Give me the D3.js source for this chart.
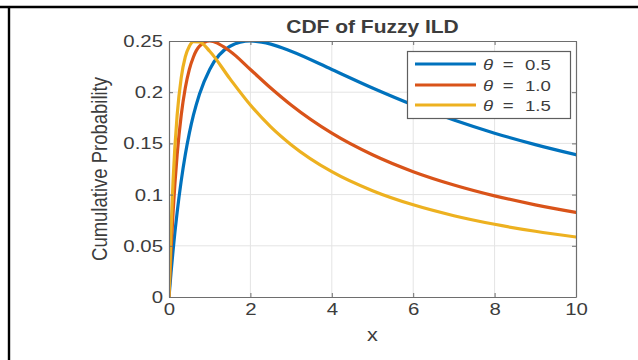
<!DOCTYPE html>
<html>
<head>
<meta charset="utf-8">
<script src="https://cdn.jsdelivr.net/npm/d3@7"></script>
<style>
  html, body { margin: 0; padding: 0; background: #fff; }
  svg { display: block; }
  text { font-family: "Liberation Sans", Arial, Helvetica, sans-serif; fill: #3c3c3c; }
</style>
</head>
<body>
<svg id="chart" width="638" height="360"></svg>
<script>
// Sample points along x and the value of each curve at those points
const xValues = [0, 0.05, 0.1, 0.2, 0.3, 0.4, 0.5, 0.6, 0.75, 1, 1.5, 2, 2.5, 3, 4, 5, 6, 7, 8, 9, 10];
const theta05 = [0, 0.0238, 0.0454, 0.0826, 0.1134, 0.1389, 0.16, 0.1775, 0.1983, 0.2222, 0.2449, 0.25, 0.2469, 0.24, 0.2222, 0.2041, 0.1875, 0.1728, 0.16, 0.1488, 0.1389];
const theta10 = [0, 0.0454, 0.0826, 0.1389, 0.1775, 0.2041, 0.2222, 0.2344, 0.2449, 0.25, 0.24, 0.2222, 0.2041, 0.1875, 0.16, 0.1389, 0.1224, 0.1094, 0.0988, 0.09, 0.0826];
const theta15 = [0, 0.0649, 0.1134, 0.1775, 0.2140, 0.2344, 0.2449, 0.2493, 0.2491, 0.24, 0.2130, 0.1875, 0.1662, 0.1488, 0.1224, 0.1038, 0.09, 0.0794, 0.0710, 0.0642, 0.0586];

const seriesNames = ["0.5", "1.0", "1.5"];
const seriesValues = [theta05, theta10, theta15];
const seriesColors = ["#0072BD", "#D95319", "#EDB120"];

const xTicks = [0, 2, 4, 6, 8, 10];
const yTicks = [0, 0.05, 0.1, 0.15, 0.2, 0.25];
const yTickLabels = ["0", "0.05", "0.1", "0.15", "0.2", "0.25"];

const titleText = "CDF of Fuzzy ILD";
const xLabel = "x";
const yLabel = "Cumulative Probability";

// Layout
const W = 638, H = 360;
const plot = { left: 169, right: 576, top: 41, bottom: 297 };
const stretch = 1.2;   // text is drawn slightly wide

const svg = d3.select("#chart");

// Outer frame: top rule and left rule
svg.append("line").attr("x1", 0).attr("x2", W).attr("y1", 7).attr("y2", 7)
  .attr("stroke", "#000").attr("stroke-width", 2.4);
svg.append("line").attr("x1", 9).attr("x2", 9).attr("y1", 6).attr("y2", H)
  .attr("stroke", "#000").attr("stroke-width", 2.4);

const x = d3.scaleLinear().domain([0, 10]).range([plot.left, plot.right]);
const y = d3.scaleLinear().domain([0, 0.25]).range([plot.bottom, plot.top]);

// Grid
const grid = svg.append("g").attr("stroke", "#e4e4e4").attr("stroke-width", 1);
xTicks.slice(1, -1).forEach(t => {
  grid.append("line").attr("x1", x(t)).attr("x2", x(t))
    .attr("y1", plot.top).attr("y2", plot.bottom);
});
yTicks.slice(1, -1).forEach(t => {
  grid.append("line").attr("x1", plot.left).attr("x2", plot.right)
    .attr("y1", y(t)).attr("y2", y(t));
});

// Curves, clipped to the axes area
svg.append("clipPath").attr("id", "plotClip")
  .append("rect")
  .attr("x", plot.left).attr("y", plot.top)
  .attr("width", plot.right - plot.left).attr("height", plot.bottom - plot.top);

const line = d3.line()
  .x(d => x(d[0]))
  .y(d => y(d[1]))
  .curve(d3.curveMonotoneX);

const curves = svg.append("g").attr("clip-path", "url(#plotClip)");
seriesValues.forEach((vals, i) => {
  curves.append("path")
    .datum(xValues.map((xv, j) => [xv, vals[j]]))
    .attr("d", line)
    .attr("fill", "none")
    .attr("stroke", seriesColors[i])
    .attr("stroke-width", 3.2)
    .attr("stroke-linejoin", "round")
    .attr("stroke-linecap", "round");
});

// Axes with inward ticks
const axisColor = "#6e6e6e";
function styleAxis(g) {
  g.select(".domain").attr("stroke", axisColor).attr("stroke-width", 1.2);
  g.selectAll(".tick line").attr("stroke", axisColor);
  g.selectAll("text").attr("fill", "#383838").attr("font-size", 17)
    .attr("font-family", "'Liberation Sans', Arial, sans-serif");
}

const xAxis = svg.append("g")
  .attr("transform", `translate(0,${plot.bottom})`)
  .call(d3.axisBottom(x).tickValues(xTicks).tickFormat(d3.format("d"))
    .tickSizeInner(-4).tickSizeOuter(0).tickPadding(6));
styleAxis(xAxis);
xAxis.selectAll(".tick text").each(function () {
  const t = d3.select(this);
  t.attr("transform", `scale(${stretch},1)`).attr("x", 0);
});

const yAxis = svg.append("g")
  .attr("transform", `translate(${plot.left},0)`)
  .call(d3.axisLeft(y).tickValues(yTicks).tickFormat((d, i) => yTickLabels[i])
    .tickSizeInner(-4).tickSizeOuter(0).tickPadding(0));
styleAxis(yAxis);
yAxis.selectAll(".tick text").each(function () {
  d3.select(this).attr("x", 0).attr("transform", `translate(-6,0) scale(${stretch},1)`);
});

const topAxis = svg.append("g")
  .attr("transform", `translate(0,${plot.top})`)
  .call(d3.axisTop(x).tickValues(xTicks).tickFormat("").tickSizeInner(-4).tickSizeOuter(0));
styleAxis(topAxis);

const rightAxis = svg.append("g")
  .attr("transform", `translate(${plot.right},0)`)
  .call(d3.axisRight(y).tickValues(yTicks).tickFormat("").tickSizeInner(-4).tickSizeOuter(0));
styleAxis(rightAxis);

// Title and axis labels
const cx = (plot.left + plot.right) / 2;
svg.append("text")
  .attr("transform", `translate(${cx},33) scale(${stretch},1)`)
  .attr("text-anchor", "middle")
  .attr("font-size", 17.5).attr("font-weight", "bold")
  .attr("fill", "#1a1a1a")
  .text(titleText);

svg.append("text")
  .attr("transform", `translate(${cx},341) scale(${stretch},1)`)
  .attr("text-anchor", "middle")
  .attr("font-size", 18)
  .text(xLabel);

svg.append("text")
  .attr("transform", `translate(107,${(plot.top + plot.bottom) / 2}) scale(${stretch},1) rotate(-90)`)
  .attr("text-anchor", "middle")
  .attr("font-size", 18.5)
  .text(yLabel);

// Legend
const legend = { x: 407, y: 51, w: 163, h: 67 };
svg.append("rect")
  .attr("x", legend.x + 0.5).attr("y", legend.y + 0.5)
  .attr("width", legend.w).attr("height", legend.h)
  .attr("fill", "#fff").attr("stroke", "#5e5e5e").attr("stroke-width", 1.2);

const rowY = [64, 85, 105];
seriesNames.forEach((name, i) => {
  svg.append("line")
    .attr("x1", 415).attr("x2", 476)
    .attr("y1", rowY[i]).attr("y2", rowY[i])
    .attr("stroke", seriesColors[i]).attr("stroke-width", 3.2);
  const g = svg.append("g")
    .attr("transform", `translate(483,${rowY[i] + 5.5}) scale(${stretch},1)`);
  g.append("text").attr("x", 0).attr("font-size", 15.5).attr("font-style", "italic").text("θ");
  g.append("text").attr("x", 21).attr("text-anchor", "middle").attr("font-size", 15.5).text("=");
  g.append("text").attr("x", 35).attr("font-size", 15.5).text(name);
});
</script>
</body>
</html>
